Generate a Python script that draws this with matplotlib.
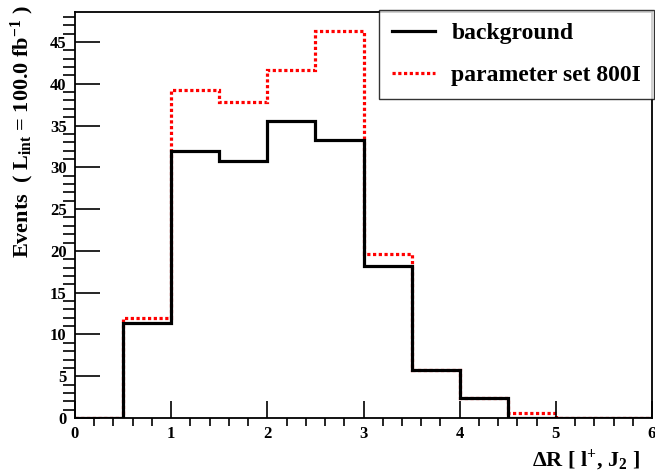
import matplotlib
matplotlib.use("Agg")
import matplotlib.pyplot as plt
import numpy as np
from matplotlib.ticker import MultipleLocator

plt.rcParams['font.family'] = ['Liberation Serif', 'DejaVu Serif']
plt.rcParams['font.weight'] = 'bold'
plt.rcParams['mathtext.fontset'] = 'custom'
plt.rcParams['mathtext.rm'] = 'Liberation Serif:bold'
plt.rcParams['mathtext.it'] = 'Liberation Serif:bold'
plt.rcParams['mathtext.bf'] = 'Liberation Serif:bold'

# histogram data, bins of 0.5 from 0 to 6
edges = np.arange(0, 6.01, 0.5)
background = [0, 11.4, 31.9, 30.7, 35.5, 33.3, 18.2, 5.8, 2.35, 0, 0, 0]
signal_800I = [0, 12.0, 39.3, 37.8, 41.7, 46.3, 19.6, 5.8, 2.35, 0.6, 0, 0]

fig = plt.figure(figsize=(6.55, 4.75), dpi=100)
ax = fig.add_axes([0.1145, 0.12, 0.881, 0.855])

ax.stairs(signal_800I, edges, color='red', lw=2.3, ls=(0, (1, 0.8)),
          baseline=None, label='parameter set 800I')
ax.stairs(background, edges, color='black', lw=2.3,
          baseline=None, label='background')

ax.set_xlim(0, 6)
ax.set_ylim(0, 48.6)
ax.xaxis.set_major_locator(MultipleLocator(1))
ax.xaxis.set_minor_locator(MultipleLocator(0.2))
ax.yaxis.set_major_locator(MultipleLocator(5))
ax.yaxis.set_minor_locator(MultipleLocator(1))
ax.tick_params(direction='in', labelsize=12, width=1.2)
ax.tick_params(axis='y', which='major', length=18, pad=6)
ax.tick_params(axis='y', which='minor', length=9, width=1.2)
ax.tick_params(axis='x', which='major', length=12, pad=6)
ax.tick_params(axis='x', which='minor', length=6, width=1.2)
for s in ax.spines.values():
    s.set_linewidth(1.3)

ax.set_ylabel(r'Events  ( L$_{\rm int}$ = 100.0 fb$^{-1}$ )', fontsize=16,
              fontweight='bold', ha='right', va='center')
ax.yaxis.set_label_coords(-0.092, 1.017)
ax.set_xlabel(r'$\Delta$R [ l$^{+}$, J$_{2}$ ]', fontsize=16,
              fontweight='bold', ha='right', va='center')
ax.xaxis.set_label_coords(0.979, -0.105)

h, l = ax.get_legend_handles_labels()
leg = fig.legend(h[::-1], l[::-1], loc='upper right', bbox_to_anchor=(0.9985, 0.979),
                 fontsize=17, frameon=True, fancybox=False, edgecolor='black',
                 handlelength=1.8, handletextpad=0.7, borderpad=0.55,
                 labelspacing=0.85, borderaxespad=0)
leg.get_frame().set_linewidth(1.0)
for line in leg.get_lines():
    line.set_linewidth(2.3)

fig.savefig('out.png', dpi=100)
